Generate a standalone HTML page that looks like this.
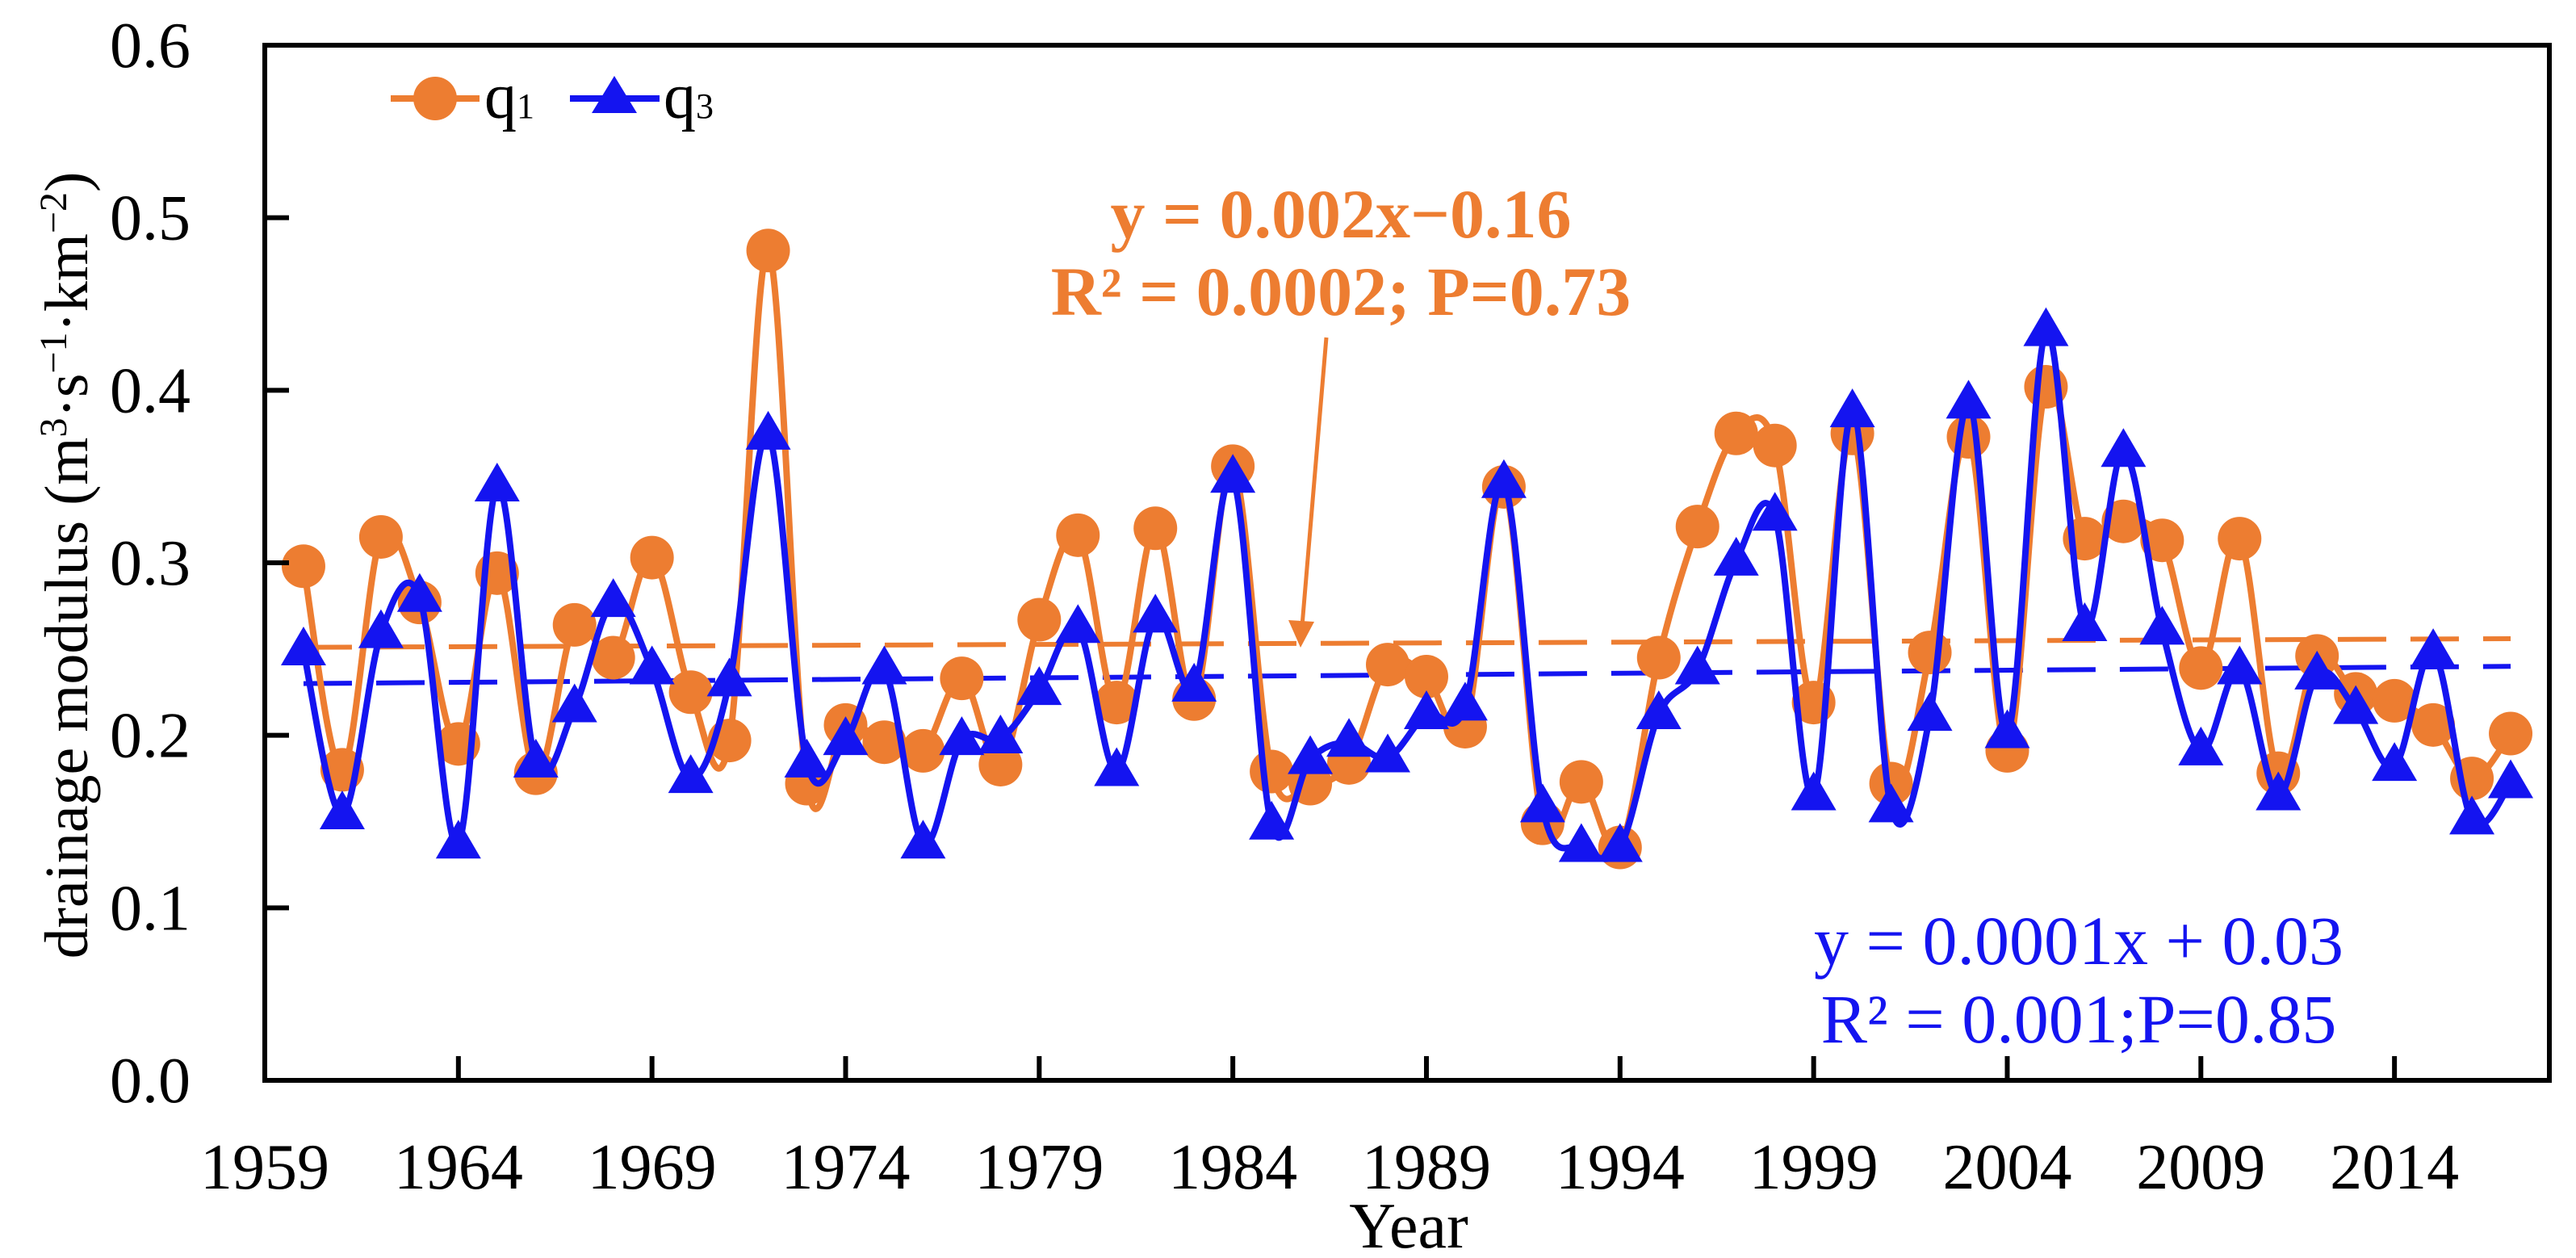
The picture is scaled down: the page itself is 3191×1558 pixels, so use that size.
<!DOCTYPE html>
<html><head><meta charset="utf-8"><style>
html,body{margin:0;padding:0;background:#fff;}
svg{display:block;font-family:"Liberation Serif",serif;}
</style></head><body>
<svg id="chart" width="3191" height="1558" viewBox="0 0 3191 1558" xmlns="http://www.w3.org/2000/svg">
<rect x="0" y="0" width="3191" height="1558" fill="#fff"/>
<g id="series"></g>
<rect x="328" y="56" width="2830" height="1282" fill="none" stroke="#000" stroke-width="6"/>
<g id="axes"></g>
<text transform="translate(108,700) rotate(-90)" text-anchor="middle" font-size="76">drainage modulus (m<tspan baseline-shift="super" font-size="48">3</tspan>·s<tspan baseline-shift="super" font-size="48">−1</tspan>·km<tspan baseline-shift="super" font-size="48">−2</tspan>)</text>
<text x="1745" y="1545" text-anchor="middle" font-size="80">Year</text>
<g>
<g>
<line x1="484" y1="122" x2="594" y2="122" stroke="#ED7D31" stroke-width="8"/>
<circle cx="539" cy="122" r="27" fill="#ED7D31"/>
<text x="600" y="146" font-size="80">q<tspan font-size="44">1</tspan></text>
</g>
<g>
<line x1="706" y1="122" x2="817" y2="122" stroke="#1414F0" stroke-width="8"/>
<polygon points="761,94 789,140 733,140" fill="#1414F0"/>
<text x="822" y="146" font-size="80">q<tspan font-size="44">3</tspan></text>
</g>
</g>
<g fill="#ED7D31" font-weight="bold" font-size="86" text-anchor="middle">
<text x="1661" y="294">y = 0.002x−0.16</text>
<text x="1661" y="390">R² = 0.0002; P=0.73</text>
</g>
<line x1="1643" y1="418" x2="1613" y2="775" stroke="#ED7D31" stroke-width="5"/>
<polygon points="1611,802 1596,768 1628,770" fill="#ED7D31"/>
<g fill="#1414F0" font-size="86" text-anchor="middle">
<text x="2575" y="1194">y = 0.0001x + 0.03</text>
<text x="2575" y="1291">R² = 0.001;P=0.85</text>
</g>
</svg>
<script>
const years = [];
for (let y = 1960; y <= 2017; y++) years.push(y);
const q1 = [0.298,0.180,0.315,0.277,0.195,0.294,0.178,0.264,0.245,0.303,0.225,0.197,0.481,0.172,0.206,0.196,0.191,0.233,0.183,0.267,0.316,0.219,0.320,0.221,0.356,0.179,0.172,0.184,0.241,0.234,0.205,0.344,0.149,0.173,0.135,0.245,0.321,0.375,0.368,0.219,0.375,0.172,0.248,0.373,0.191,0.402,0.314,0.324,0.313,0.239,0.314,0.178,0.246,0.224,0.220,0.206,0.175,0.201];
const q3 = [0.249,0.154,0.259,0.280,0.137,0.344,0.184,0.216,0.277,0.238,0.175,0.231,0.374,0.184,0.197,0.238,0.137,0.197,0.198,0.226,0.262,0.179,0.268,0.228,0.349,0.148,0.186,0.196,0.187,0.212,0.217,0.346,0.158,0.135,0.135,0.212,0.238,0.301,0.327,0.165,0.387,0.158,0.211,0.392,0.201,0.434,0.263,0.364,0.261,0.191,0.238,0.165,0.235,0.215,0.182,0.248,0.151,0.172];
const q1Trend = [0.251, 0.256];
const q3Trend = [0.230, 0.240];
const yTicks = [0.0,0.1,0.2,0.3,0.4,0.5,0.6];
const yTickLabels = ["0.0","0.1","0.2","0.3","0.4","0.5","0.6"];
const xTicks = [1959,1964,1969,1974,1979,1984,1989,1994,1999,2004,2009,2014];

const X0 = 328, X1 = 3158, Y0 = 1338, Y1 = 56;
const xMin = 1959, xMax = 2018, yMin = 0, yMax = 0.6;
function xs(v){ return X0 + (v - xMin) / (xMax - xMin) * (X1 - X0); }
function ys(v){ return Y0 - (v - yMin) / (yMax - yMin) * (Y0 - Y1); }
const NS = "http://www.w3.org/2000/svg";
function mk(tag, attrs, parent){ const e = document.createElementNS(NS, tag); for (const k in attrs) e.setAttribute(k, attrs[k]); parent.appendChild(e); return e; }

const axes = document.getElementById('axes');
yTicks.forEach((t, i) => {
  const l = mk('line', {x1: X0, x2: X0 + 30, y1: ys(t), y2: ys(t), stroke: '#000', 'stroke-width': 6}, axes);
  
  
  const tx = mk('text', {x: 236, y: ys(t) + 27, 'text-anchor': 'end', 'font-size': 80}, axes);
  tx.textContent = yTickLabels[i];
  
  
});
xTicks.forEach(t => {
  if (t !== xMin) {
    const l = mk('line', {x1: xs(t), x2: xs(t), y1: Y0, y2: Y0 - 30, stroke: '#000', 'stroke-width': 6}, axes);
    
    
  }
  const tx = mk('text', {x: xs(t), y: 1472, 'text-anchor': 'middle', 'font-size': 80}, axes);
  tx.textContent = String(t);
  
  
});

function smoothPath(pts){
  let d = `M${pts[0][0]},${pts[0][1]}`;
  for (let i = 0; i < pts.length - 1; i++) {
    const p0 = pts[i-1] || pts[i], p1 = pts[i], p2 = pts[i+1], p3 = pts[i+2] || p2;
    const t = 1/6;
    const c1 = [p1[0] + (p2[0]-p0[0])*t, p1[1] + (p2[1]-p0[1])*t];
    const c2 = [p2[0] - (p3[0]-p1[0])*t, p2[1] - (p3[1]-p1[1])*t];
    d += ` C${c1[0]},${c1[1]} ${c2[0]},${c2[1]} ${p2[0]},${p2[1]}`;
  }
  return d;
}
const g = document.getElementById('series');
const trend1 = mk('line', {x1: xs(1960), x2: xs(2017), y1: ys(q1Trend[0]), y2: ys(q1Trend[1]), stroke: '#ED7D31', 'stroke-width': 6, 'stroke-dasharray': '60 30'}, g);


const trend3 = mk('line', {x1: xs(1960), x2: xs(2017), y1: ys(q3Trend[0]), y2: ys(q3Trend[1]), stroke: '#1414F0', 'stroke-width': 6, 'stroke-dasharray': '60 30'}, g);



const p1 = mk('path', {d: smoothPath(years.map((y,i)=>[xs(y), ys(q1[i])])), fill: 'none', stroke: '#ED7D31', 'stroke-width': 8}, g);


years.forEach((y,i) => {
  const c = mk('circle', {cx: xs(y), cy: ys(q1[i]), r: 27, fill: '#ED7D31'}, g);
  
  
});
const p3 = mk('path', {d: smoothPath(years.map((y,i)=>[xs(y), ys(q3[i])])), fill: 'none', stroke: '#1414F0', 'stroke-width': 8}, g);


years.forEach((y,i) => {
  const cx = xs(y), cy = ys(q3[i]);
  const tri = mk('polygon', {points: `${cx},${cy-30} ${cx+28},${cy+18} ${cx-28},${cy+18}`, fill: '#1414F0'}, g);
  
  
});
</script>
</body></html>
